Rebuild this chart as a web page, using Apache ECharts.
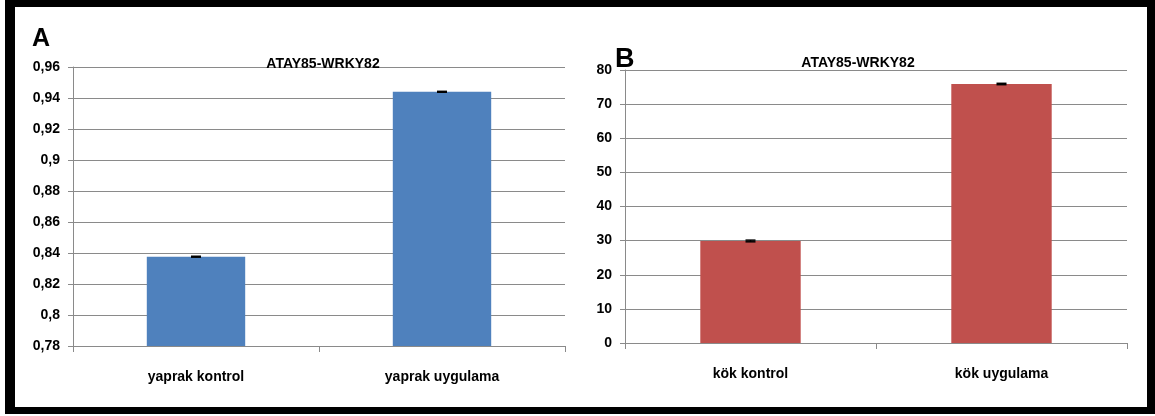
<!DOCTYPE html>
<html>
<head>
<meta charset="utf-8">
<script src="https://cdn.jsdelivr.net/npm/echarts@6/dist/echarts.min.js"></script>
<style>
html,body{margin:0;padding:0;background:#fff;}
#c{width:1155px;height:416px;}
</style>
</head>
<body>
<div id="c"></div>
<script>
// ---- data ----
var chartTitle = 'ATAY85-WRKY82';
var catsA = ['yaprak kontrol', 'yaprak uygulama'];
var valsA = [0.8376, 0.9440];
var errA = [0.0003, 0.0003];
var catsB = ['kök kontrol', 'kök uygulama'];
var valsB = [29.9, 75.9];
var errB = [0.25, 0.2];

var FONT = '"Liberation Sans", Arial, sans-serif';
var GRAY = '#8a8a8a';

function fmtA(v){ return String(Number(v.toFixed(2))).replace('.', ','); }
function fmtB(v){ return String(Math.round(v)); }

function errData(vals, errs){
  return vals.map(function(v,i){ return [i, v - errs[i], v + errs[i]]; });
}
function errRender(params, api){
  var x = api.value(0);
  var lo = api.coord([x, api.value(1)]);
  var hi = api.coord([x, api.value(2)]);
  var hw = 5;
  var st = {stroke:'#000', lineWidth:1.5};
  return {type:'group', children:[
    {type:'line', shape:{x1:lo[0], y1:lo[1], x2:hi[0], y2:hi[1]}, style:st},
    {type:'line', shape:{x1:hi[0]-hw, y1:hi[1], x2:hi[0]+hw, y2:hi[1]}, style:st},
    {type:'line', shape:{x1:lo[0]-hw, y1:lo[1], x2:lo[0]+hw, y2:lo[1]}, style:st}
  ]};
}

function xAxisCfg(idx, cats){
  return {
    type:'category', gridIndex:idx, data:cats,
    axisLine:{show:true, lineStyle:{color:GRAY, width:1}},
    axisTick:{show:true, length:6, alignWithLabel:false, lineStyle:{color:GRAY}},
    axisLabel:{color:'#000', fontFamily:FONT, fontWeight:'bold', fontSize:14, margin:24}
  };
}
function yAxisCfg(idx, min, max, interval, fmt){
  return {
    type:'value', gridIndex:idx, min:min, max:max, interval:interval,
    axisLine:{show:true, lineStyle:{color:GRAY, width:1}},
    axisTick:{show:true, length:5, lineStyle:{color:GRAY}},
    splitLine:{show:true, lineStyle:{color:GRAY, width:1}},
    axisLabel:{color:'#000', fontFamily:FONT, fontWeight:'bold', fontSize:14, margin:13, formatter:fmt}
  };
}

var chart = echarts.init(document.getElementById('c'), null, {renderer:'canvas'});
chart.setOption({
  backgroundColor:'#fff',
  animation:false,
  title:[
    {text:chartTitle, left:318, top:52, textAlign:'center',
     textStyle:{fontFamily:FONT, fontWeight:'bold', fontSize:14, color:'#000'}},
    {text:chartTitle, left:853, top:51, textAlign:'center',
     textStyle:{fontFamily:FONT, fontWeight:'bold', fontSize:14, color:'#000'}},
    {text:'A', left:27, top:22,
     textStyle:{fontFamily:FONT, fontWeight:'bold', fontSize:25, color:'#000'}},
    {text:'B', left:610, top:41,
     textStyle:{fontFamily:FONT, fontWeight:'bold', fontSize:27, color:'#000'}}
  ],
  grid:[
    {left:73, right:590, top:67, bottom:70},
    {left:625, right:28, top:70, bottom:73}
  ],
  xAxis:[ xAxisCfg(0, catsA), xAxisCfg(1, catsB) ],
  yAxis:[ yAxisCfg(0, 0.78, 0.96, 0.02, fmtA), yAxisCfg(1, 0, 80, 10, fmtB) ],
  series:[
    {type:'bar', xAxisIndex:0, yAxisIndex:0, data:valsA, barWidth:'40%',
     itemStyle:{color:'#4F81BD'}},
    {type:'custom', xAxisIndex:0, yAxisIndex:0, data:errData(valsA, errA),
     renderItem:errRender, z:10},
    {type:'bar', xAxisIndex:1, yAxisIndex:1, data:valsB, barWidth:'40%',
     itemStyle:{color:'#C0504D'}},
    {type:'custom', xAxisIndex:1, yAxisIndex:1, data:errData(valsB, errB),
     renderItem:errRender, z:10}
  ],
  graphic:[
    {type:'rect', shape:{x:5, y:0, width:10, height:414}, style:{fill:'#000'}, z:100},
    {type:'rect', shape:{x:5, y:0, width:1150, height:7}, style:{fill:'#000'}, z:100},
    {type:'rect', shape:{x:1147, y:0, width:8, height:414}, style:{fill:'#000'}, z:100},
    {type:'rect', shape:{x:5, y:407, width:1150, height:7}, style:{fill:'#000'}, z:100}
  ]
});
</script>
</body>
</html>
